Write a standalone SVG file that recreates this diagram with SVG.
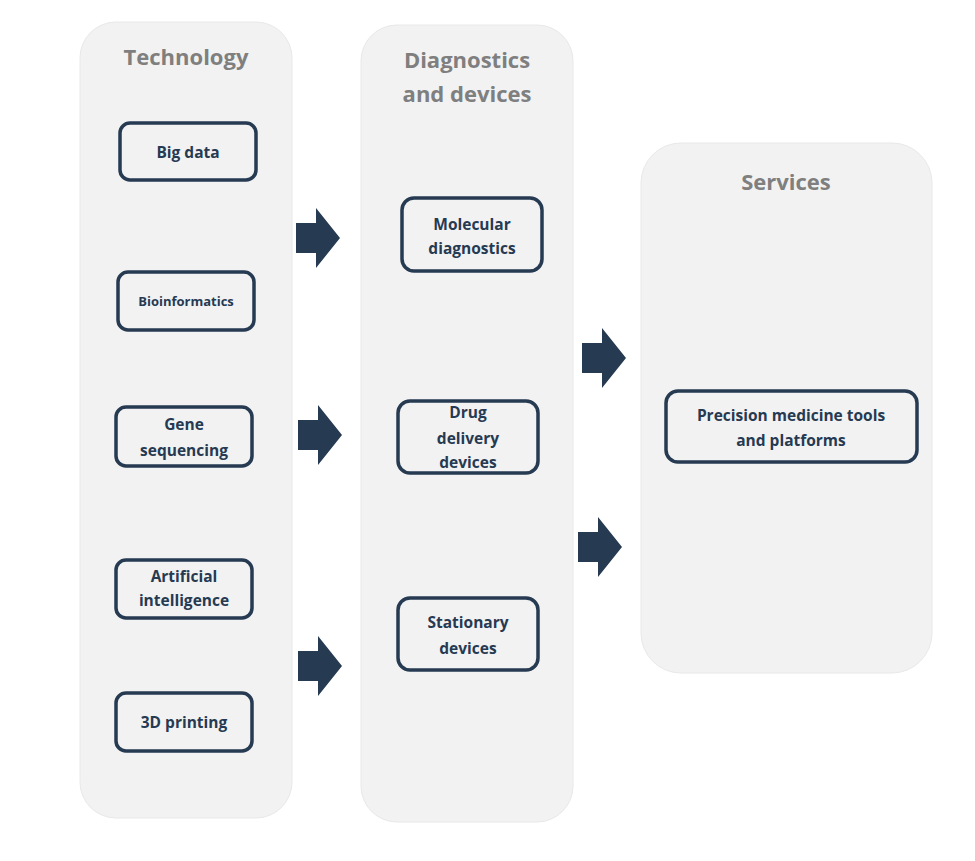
<svg xmlns="http://www.w3.org/2000/svg" width="975" height="861" viewBox="0 0 975 861">
<style>
.panel{fill:#f2f2f2;stroke:#e8e8e8;stroke-width:1}
.title{font-family:"Open Sans","Liberation Sans",sans-serif;font-weight:bold;font-size:22px;fill:#7f7f7f;text-anchor:middle}
.box{fill:#f2f2f2;stroke:#263a52;stroke-width:3.5}
.lbl{font-family:"Open Sans","Liberation Sans",sans-serif;font-weight:bold;font-size:15.5px;fill:#263a52;text-anchor:middle}
.arr{fill:#263a52}
</style>
<rect width="975" height="861" fill="#fff"/>
<g id="technology"><rect class="panel" x="80" y="22" width="212" height="796" rx="36"/><text class="title" x="186" y="65">Technology</text></g>
<g id="diagnostics"><rect class="panel" x="361" y="25" width="212" height="797" rx="36"/><text class="title" x="467" y="68">Diagnostics</text><text class="title" x="467" y="102">and devices</text></g>
<g id="services"><rect class="panel" x="641" y="143" width="291" height="530" rx="40"/><text class="title" x="786" y="190">Services</text></g>
<g id="bigdata"><rect class="box" x="120" y="123" width="136" height="57" rx="10"/><text class="lbl" x="188" y="158">Big data</text></g>
<g id="bioinformatics"><rect class="box" x="118" y="272" width="136" height="58" rx="10"/><text class="lbl" x="186" y="306" style="font-size:13px">Bioinformatics</text></g>
<g id="gene"><rect class="box" x="116" y="407" width="136" height="59" rx="10"/><text class="lbl" x="184" y="430">Gene</text><text class="lbl" x="184" y="456">sequencing</text></g>
<g id="ai"><rect class="box" x="116" y="560" width="136" height="58" rx="10"/><text class="lbl" x="184" y="582">Artificial</text><text class="lbl" x="184" y="606">intelligence</text></g>
<g id="printing"><rect class="box" x="116" y="693" width="136" height="58" rx="10"/><text class="lbl" x="184" y="728">3D printing</text></g>
<g id="molecular"><rect class="box" x="402" y="198" width="140" height="73" rx="12"/><text class="lbl" x="472" y="230">Molecular</text><text class="lbl" x="472" y="254">diagnostics</text></g>
<g id="drug"><rect class="box" x="398" y="401" width="140" height="72" rx="12"/><text class="lbl" x="468" y="418">Drug</text><text class="lbl" x="468" y="444">delivery</text><text class="lbl" x="468" y="468">devices</text></g>
<g id="stationary"><rect class="box" x="398" y="598" width="140" height="72" rx="12"/><text class="lbl" x="468" y="628">Stationary</text><text class="lbl" x="468" y="654">devices</text></g>
<g id="precision"><rect class="box" x="666" y="391" width="251" height="71" rx="12"/><text class="lbl" x="791" y="421">Precision medicine tools</text><text class="lbl" x="791" y="446">and platforms</text></g>
<g id="connectors">
<path class="arr" d="M296,223H316V208L340,238L316,268V253H296Z"/>
<path class="arr" d="M298,420H318V405L342,435L318,465V450H298Z"/>
<path class="arr" d="M298,651H318V636L342,666L318,696V681H298Z"/>
<path class="arr" d="M582,343H602V328L626,358L602,388V373H582Z"/>
<path class="arr" d="M578,532H598V517L622,547L598,577V562H578Z"/>
</g>
</svg>
